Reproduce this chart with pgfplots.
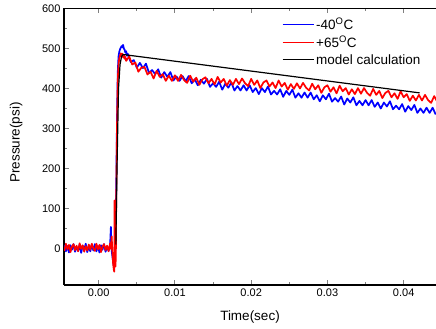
\documentclass[border=0pt]{standalone}
\usepackage{pgfplots}
\pgfplotsset{compat=1.18}
\usepackage{fontspec}
\setmainfont{Liberation Sans}
\begin{document}
\begin{tikzpicture}
\path[use as bounding box] (-64pt,-44pt) rectangle (372pt,285pt);
\begin{axis}[
  at={(0pt,0pt)}, anchor=south west,
  scale only axis, width=372pt, height=276.5pt,
  xmin=-0.00455, xmax=0.04424, ymin=-91.25, ymax=600,
  axis x line*=box, axis y line*=left,
  axis line style={line width=1.1pt},
  tick align=inside,
  xtick pos=both, ytick pos=left,
  xtick={0,0.01,0.02,0.03,0.04},
  ytick={0,100,200,300,400,500,600},
  minor x tick num=1, minor y tick num=1,
  major tick length=5pt, minor tick length=3pt,
  tick style={line width=0.9pt},
  scaled x ticks=false,
  xticklabel style={/pgf/number format/.cd, fixed, fixed zerofill, precision=2},
  /pgf/number format/assume math mode=true,
  ticklabel style={font=\fontsize{11}{12}\selectfont},
  xlabel={Time(sec)}, ylabel={Pressure(psi)},
  every axis x label/.style={at={(axis description cs:0.5,-0.1146)}, anchor=center, font=\fontsize{13.5}{15}\selectfont},
  every axis y label/.style={at={(axis description cs:-0.129,0.515)}, anchor=center, rotate=90, font=\fontsize{13.5}{15}\selectfont},
  legend cell align=left,
  legend style={at={(rel axis cs:0.586,0.975)}, anchor=north west, draw=none, fill=none,
    inner sep=0pt, row sep=1pt, font=\fontsize{13.5}{15}\selectfont},
]
\addplot[color=blue, line width=1.7pt, line join=round,
  legend image code/.code={\draw[blue, line width=0.8pt] (0pt,0pt) -- (31pt,0pt);}] coordinates {
(-0.0045,9)(-0.0043,-7)(-0.0041,6)(-0.0039,-10)(-0.0037,8)(-0.0035,-3)(-0.0033,11)(-0.0031,-8)
(-0.0029,4)(-0.0027,-6)(-0.0025,10)(-0.0023,-11)(-0.0021,7)(-0.0019,-4)(-0.0017,12)(-0.0015,-9)
(-0.0013,5)(-0.0011,-7)(-0.0009,9)(-0.0007,-5)(-0.0005,11)(-0.0003,-7)(-0.0001,6)(0.0001,-10)
(0.0003,8)(0.0005,-3)(0.0007,11)(0.0009,-8)(0.0011,4)(0.0013,-6)(0.0015,10)
(0.0016,54)(0.0017,-5)(0.0019,-35)(0.0020,-45)(0.0021,-20)(0.0022,5)(0.0023,150)(0.0024,320)
(0.0025,440)(0.0026,480)(0.0027,492)(0.0028,498)(0.0029,502)(0.0030,506)(0.0031,503)(0.0032,509)
(0.0033,500)(0.0034,497)(0.0035,490)(0.0036,493)(0.0037,482)
(0.0038,487)(0.0042,466)(0.0046,471)(0.0050,452)(0.0054,464)(0.0058,451)(0.0062,462)(0.0066,439)
(0.0070,446)(0.0074,436)(0.0078,448)(0.0082,427)(0.0086,441)(0.0090,429)(0.0094,441)(0.0098,420)
(0.0102,430)(0.0106,419)(0.0110,431)(0.0114,418)(0.0118,431)(0.0122,413)(0.0126,423)(0.0130,408)
(0.0134,422)(0.0138,412)(0.0142,424)(0.0146,404)(0.0150,413)(0.0154,404)(0.0158,417)(0.0162,397)
(0.0166,412)(0.0170,402)(0.0174,415)(0.0178,395)(0.0182,406)(0.0186,395)(0.0190,408)(0.0194,395)
(0.0198,408)(0.0202,391)(0.0206,401)(0.0210,386)(0.0214,401)(0.0218,391)(0.0222,405)(0.0226,385)
(0.0230,394)(0.0234,385)(0.0238,398)(0.0242,379)(0.0246,394)(0.0250,384)(0.0254,397)(0.0258,377)
(0.0262,388)(0.0266,377)(0.0270,390)(0.0274,377)(0.0278,390)(0.0282,373)(0.0286,383)(0.0290,368)
(0.0294,383)(0.0298,373)(0.0302,387)(0.0306,367)(0.0310,376)(0.0314,367)(0.0318,380)(0.0322,360)
(0.0326,375)(0.0330,365)(0.0334,378)(0.0338,358)(0.0342,369)(0.0346,358)(0.0350,371)(0.0354,358)
(0.0358,371)(0.0362,354)(0.0366,365)(0.0370,350)(0.0374,365)(0.0378,355)(0.0382,368)(0.0386,348)
(0.0390,357)(0.0394,348)(0.0398,361)(0.0402,342)(0.0406,356)(0.0410,346)(0.0414,359)(0.0418,339)
(0.0422,350)(0.0426,339)(0.0430,352)(0.0434,339)(0.0438,352)(0.0442,335)
};
\addlegendentry{-40\textsuperscript{O}C}
\addplot[color=red, line width=1.7pt, line join=round,
  legend image code/.code={\draw[red, line width=0.8pt] (0pt,0pt) -- (31pt,0pt);}] coordinates {
(-0.0045,-6)(-0.0043,12)(-0.0041,-2)(-0.0039,9)(-0.0037,-9)(-0.0035,5)(-0.0033,11)(-0.0031,-4)
(-0.0029,7)(-0.0027,-7)(-0.0025,13)(-0.0023,-1)(-0.0021,8)(-0.0019,-8)(-0.0017,6)(-0.0015,-5)
(-0.0013,10)(-0.0011,-3)(-0.0009,12)(-0.0007,0)(-0.0005,-6)(-0.0003,12)(-0.0001,-2)(0.0001,9)
(0.0003,-9)(0.0005,5)(0.0007,11)(0.0009,-4)(0.0011,7)(0.0013,-7)(0.0015,13)(0.0016,-1)
(0.0017,30)(0.0018,-10)(0.0019,-40)(0.0020,-55)(0.00205,-58)(0.00208,120)(0.00212,60)(0.0022,-45)
(0.00225,-20)(0.0023,120)(0.0024,300)(0.0025,420)(0.0026,460)(0.0027,475)(0.0028,482)(0.0029,488)
(0.0030,480)(0.0031,487)(0.0032,478)(0.0033,484)(0.0034,474)(0.0035,479)
(0.0036,469)(0.0040,480)(0.0044,460)(0.0048,465)(0.0052,442)(0.0056,452)(0.0060,454)(0.0064,435)
(0.0068,442)(0.0072,425)(0.0076,444)(0.0080,429)(0.0084,436)(0.0088,419)(0.0092,432)(0.0096,419)
(0.0100,433)(0.0104,419)(0.0108,434)(0.0112,421)(0.0116,414)(0.0120,432)(0.0124,417)(0.0128,427)
(0.0132,409)(0.0136,423)(0.0140,428)(0.0144,413)(0.0148,424)(0.0152,410)(0.0156,429)(0.0160,415)
(0.0164,424)(0.0168,407)(0.0172,421)(0.0176,409)(0.0180,424)(0.0184,411)(0.0188,425)(0.0192,413)
(0.0196,406)(0.0200,424)(0.0204,409)(0.0208,420)(0.0212,401)(0.0216,415)(0.0220,420)(0.0224,405)
(0.0228,415)(0.0232,401)(0.0236,420)(0.0240,405)(0.0244,414)(0.0248,397)(0.0252,411)(0.0256,399)
(0.0260,413)(0.0264,400)(0.0268,414)(0.0272,402)(0.0276,395)(0.0280,412)(0.0284,398)(0.0288,408)
(0.0292,389)(0.0296,403)(0.0300,408)(0.0304,392)(0.0308,403)(0.0312,388)(0.0316,407)(0.0320,393)
(0.0324,401)(0.0328,385)(0.0332,398)(0.0336,386)(0.0340,401)(0.0344,387)(0.0348,401)(0.0352,389)
(0.0356,382)(0.0360,399)(0.0364,384)(0.0368,394)(0.0372,376)(0.0376,389)(0.0380,394)(0.0384,378)
(0.0388,388)(0.0392,374)(0.0396,393)(0.0400,378)(0.0404,386)(0.0408,369)(0.0412,382)(0.0416,370)
(0.0420,384)(0.0424,370)(0.0428,384)(0.0432,371)(0.0436,364)(0.0440,381)(0.0444,367)
};
\addlegendentry{+65\textsuperscript{O}C}
\addplot[color=black, line width=1.2pt,
  legend image code/.code={\draw[black, line width=1pt] (0pt,0pt) -- (31pt,0pt);}] coordinates {
(0.00225,10)(0.0024,200)(0.0026,400)(0.0028,460)(0.0030,480)(0.0032,485)(0.0421,389)
};
\addlegendentry{model calculation}
\end{axis}
\end{tikzpicture}
\end{document}
